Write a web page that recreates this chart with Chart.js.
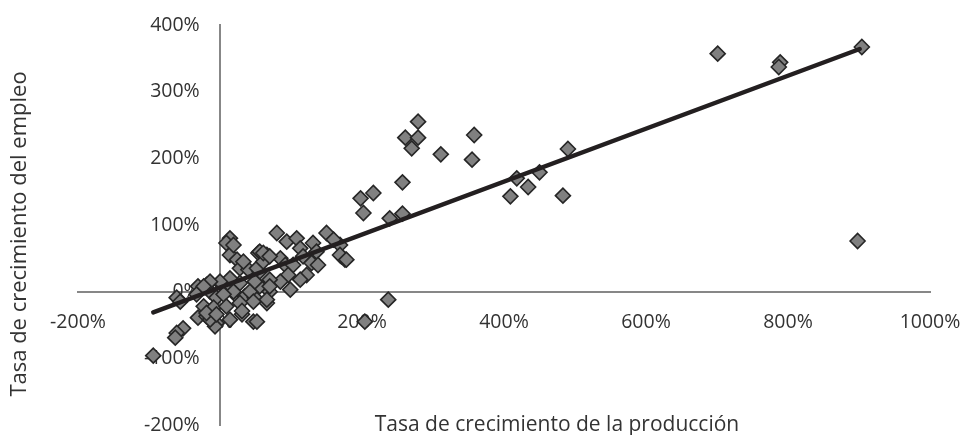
<!DOCTYPE html>
<html><head><meta charset="utf-8">
<script src="https://cdn.jsdelivr.net/npm/chart.js@4.4.1/dist/chart.umd.min.js"></script>
<style>html,body{margin:0;padding:0;background:#fff;overflow:hidden}#wrap{width:964px;height:435px;position:relative}</style>
</head><body><div id="wrap"><canvas id="c"></canvas></div>
<script>
// Data (percent)
const xValues = [279,261,279,270,311,358,355,257,198,216,202,239,257,490,418,450,434,409,483,237,204,171,176,169,701,789,787,904,898,
14,9,14,24,28,40,54,-31,-19,0,14,-61,-56,-33,-14,-5,24,35,47,-23,-9,-31,-19,-5,-7,-14,14,31,47,-52,-61,-63,-94,
80,94,108,150,160,131,136,113,117,169,178,56,66,85,92,103,129,138,122,113,96,85,70,56,52,61,56,70,99,49,66,52,
19,33,61,70,49,28,14,0,-14,-23,70,42,19,5,66,47,28,9,-19,-5,31];
const yValues = [255,231,231,215,206,235,198,164,140,148,118,110,117,214,170,179,157,143,144,-12,-45,53,48,70,357,344,337,367,76,
80,73,55,48,35,33,58,8,10,13,10,-9,-15,-4,0,-9,-7,-7,3,-22,-24,-39,-37,-47,-52,-42,-42,-34,-45,-55,-62,-69,-96,
88,75,80,88,78,73,60,65,53,55,48,60,55,50,40,40,43,40,25,18,25,15,18,30,35,45,8,0,3,-9,-17,-45,
70,45,58,53,15,13,20,15,15,8,8,0,0,-4,-12,-15,-17,-22,-32,-34,-29];
const trendX = [-94, 901];
const trendY = [-31, 364];
const xTicks = [-200,0,200,400,600,800,1000];
const yTicks = [-200,-100,0,100,200,300,400];
const xTitle = 'Tasa de crecimiento de la producción';
const yTitle = 'Tasa de crecimiento del empleo';

const FONT = '"Open Sans", "Noto Sans", sans-serif';
const TXT = '#333333';

const pts = xValues.map((x,i)=>({x:x, y:yValues[i]}));
const trend = trendX.map((x,i)=>({x:x, y:trendY[i]}));

const titlePlugin = {
  id:'titles',
  afterDraw(chart){
    const ctx = chart.ctx, a = chart.chartArea;
    ctx.save();
    ctx.fillStyle = TXT;
    ctx.textAlign = 'center';
    ctx.textBaseline = 'middle';
    ctx.font = '21px ' + FONT;
    ctx.fillText(xTitle, a.left + 479, a.bottom);
    ctx.font = '22px ' + FONT;
    ctx.translate(20, a.top + 209);
    ctx.rotate(-Math.PI/2);
    ctx.fillText(yTitle, 0, 0);
    ctx.restore();
  }
};

new Chart(document.getElementById('c'), {
  type:'scatter',
  data:{ datasets:[
    { type:'line', data:trend, borderColor:'#231f20', borderWidth:4.5, pointRadius:0, fill:false, borderCapStyle:'round' },
    { data:pts, pointStyle:'rectRot', pointRadius:7.5, backgroundColor:'#808080', borderColor:'#262626', borderWidth:1.6 }
  ]},
  options:{
    responsive:true, maintainAspectRatio:false, animation:false,
    layout:{ padding:{ left:78, right:34, top:25, bottom:10 } },
    plugins:{ legend:{display:false}, tooltip:{enabled:false} },
    scales:{
      x:{ type:'linear', min:-200, max:1000, position:{y:0},
        afterBuildTicks(s){ s.ticks = xTicks.map(v=>({value:v})); },
        afterFit(s){ s.height = 0; s.paddingLeft = 0; s.paddingRight = 0; },
        grid:{ display:false, drawTicks:false },
        border:{ display:true, color:'#878787', width:2 },
        ticks:{ padding:19, color:TXT, font:{ family:FONT, size:19.5 }, callback:v=>v+'%', maxRotation:0, autoSkip:false }
      },
      y:{ type:'linear', min:-200, max:400, position:{x:0},
        afterBuildTicks(s){ s.ticks = yTicks.map(v=>({value:v})); },
        afterFit(s){ s.width = 0; s.paddingTop = 0; s.paddingBottom = 0; },
        grid:{ display:false, drawTicks:false },
        border:{ display:true, color:'#878787', width:2 },
        ticks:{ color:TXT, font:{ family:FONT, size:19.5 }, callback:v=>v+'%    ', autoSkip:false }
      }
    }
  },
  plugins:[titlePlugin]
});
</script></body></html>
